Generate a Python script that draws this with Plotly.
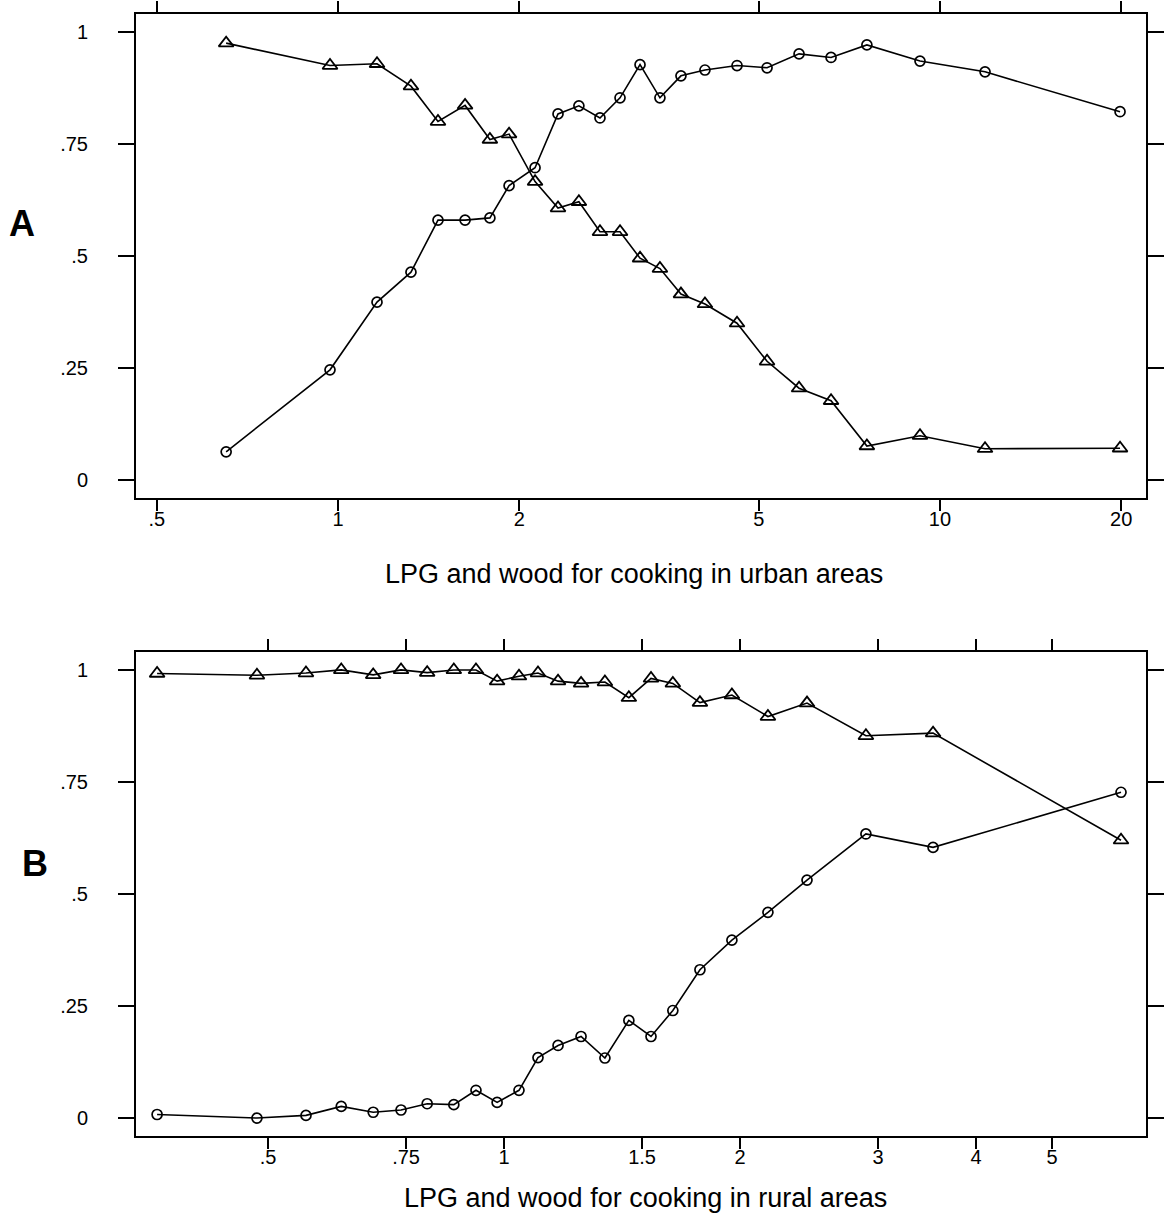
import plotly.graph_objects as go

# ---------------- data ----------------
urban_x = [0.652, 0.970, 1.161, 1.322, 1.466, 1.626, 1.788, 1.924, 2.125, 2.320,
           2.513, 2.724, 2.941, 3.175, 3.426, 3.713, 4.070, 4.601, 5.161, 5.833,
           6.592, 7.561, 9.264, 11.88, 19.91]
urban_wood = [0.975, 0.925, 0.929, 0.879, 0.800, 0.836, 0.760, 0.772, 0.666, 0.607,
              0.621, 0.554, 0.554, 0.495, 0.472, 0.415, 0.393, 0.350, 0.265, 0.205,
              0.177, 0.076, 0.099, 0.070, 0.071]
urban_lpg = [0.063, 0.246, 0.397, 0.464, 0.580, 0.580, 0.585, 0.657, 0.697, 0.817,
             0.835, 0.808, 0.853, 0.927, 0.853, 0.902, 0.915, 0.925, 0.920, 0.951,
             0.943, 0.971, 0.935, 0.911, 0.822]

rural_x = [0.361, 0.484, 0.559, 0.620, 0.681, 0.739, 0.798, 0.863, 0.921, 0.980,
           1.045, 1.105, 1.172, 1.254, 1.345, 1.443, 1.540, 1.642, 1.778, 1.953,
           2.171, 2.435, 2.895, 3.526, 6.124]
rural_wood = [0.992, 0.988, 0.993, 1.000, 0.989, 1.000, 0.994, 1.000, 1.000, 0.975,
              0.986, 0.993, 0.975, 0.970, 0.973, 0.938, 0.981, 0.970, 0.927, 0.944,
              0.896, 0.926, 0.853, 0.859, 0.620]
rural_lpg = [0.008, 0.000, 0.006, 0.026, 0.013, 0.018, 0.032, 0.030, 0.062, 0.035,
             0.062, 0.135, 0.162, 0.182, 0.134, 0.218, 0.182, 0.240, 0.331, 0.397,
             0.459, 0.531, 0.634, 0.604, 0.727]

urban_tickvals = [0.5, 1, 2, 5, 10, 20]
urban_ticktext = ['.5', '1', '2', '5', '10', '20']
rural_tickvals = [0.5, 0.75, 1, 1.5, 2, 3, 4, 5]
rural_ticktext = ['.5', '.75', '1', '1.5', '2', '3', '4', '5']
y_tickvals = [0, 0.25, 0.5, 0.75, 1]
y_ticktext = ['0', '.25', '.5', '.75', '1']

panel_labels = ['A', 'B']
x_titles = ['LPG and wood for cooking in urban areas',
            'LPG and wood for cooking in rural areas']

# ---------------- figure ----------------
W, H = 1165, 1228
FONT = 'Liberation Sans, Arial, sans-serif'

fig = go.Figure()

line_style = dict(color='black', width=1.6)
circ = dict(symbol='circle-open', size=10, color='black', line=dict(width=1.7))
tri = dict(symbol='triangle-up-open', size=13, color='black', line=dict(width=1.8))

fig.add_trace(go.Scatter(x=urban_x, y=urban_wood, mode='lines+markers', line=line_style,
                         marker=tri, xaxis='x', yaxis='y', name='Wood'))
fig.add_trace(go.Scatter(x=urban_x, y=urban_lpg, mode='lines+markers', line=line_style,
                         marker=circ, xaxis='x', yaxis='y', name='LPG'))
fig.add_trace(go.Scatter(x=rural_x, y=rural_wood, mode='lines+markers', line=line_style,
                         marker=tri, xaxis='x2', yaxis='y2', name='Wood'))
fig.add_trace(go.Scatter(x=rural_x, y=rural_lpg, mode='lines+markers', line=line_style,
                         marker=circ, xaxis='x2', yaxis='y2', name='LPG'))

x_dom = [136 / W, 1146 / W]
yA_dom = [1 - 498 / H, 1 - 14 / H]
yB_dom = [1 - 1136 / H, 1 - 652 / H]

common_x = dict(type='log', showline=True, linecolor='black', linewidth=2, mirror='ticks',
                ticks='outside', ticklen=11, tickwidth=2, tickcolor='black',
                showgrid=False, zeroline=False, tickfont=dict(family=FONT, size=20, color='black'),
                ticklabelstandoff=-9, domain=x_dom)
common_y = dict(range=[-0.04, 1.04], showline=True, linecolor='black', linewidth=2, mirror='ticks',
                ticks='outside', ticklen=16, tickwidth=2, tickcolor='black',
                showgrid=False, zeroline=False, tickvals=y_tickvals, ticktext=y_ticktext,
                tickfont=dict(family=FONT, size=20, color='black'), ticklabelstandoff=26)

fig.update_layout(
    width=W, height=H, autosize=False,
    margin=dict(l=0, r=0, t=0, b=0),
    paper_bgcolor='white', plot_bgcolor='white',
    showlegend=False,
    xaxis=dict(common_x, range=[-0.3355, 1.3422], tickvals=urban_tickvals,
               ticktext=urban_ticktext, anchor='y'),
    yaxis=dict(common_y, domain=yA_dom, anchor='x'),
    xaxis2=dict(common_x, range=[-0.4694, 0.8189], tickvals=rural_tickvals,
                ticktext=rural_ticktext, anchor='y2'),
    yaxis2=dict(common_y, domain=yB_dom, anchor='x2'),
)

annots = [
    dict(text='<b>' + panel_labels[0] + '</b>', x=22 / W, y=1 - 224 / H),
    dict(text='<b>' + panel_labels[1] + '</b>', x=35 / W, y=1 - 863 / H),
    dict(text=x_titles[0], x=634 / W, y=1 - 574 / H),
    dict(text=x_titles[1], x=645 / W, y=1 - 1198 / H),
]
sizes = [36, 36, 27, 27]
for a, s in zip(annots, sizes):
    a.update(xref='paper', yref='paper', xanchor='center', yanchor='middle',
             showarrow=False, font=dict(family=FONT, size=s, color='black'))
fig.update_layout(annotations=annots)

fig.write_html('out.html',
               config={'displayModeBar': False},
               post_script="document.body.style.margin='0';document.body.style.padding='0';")
